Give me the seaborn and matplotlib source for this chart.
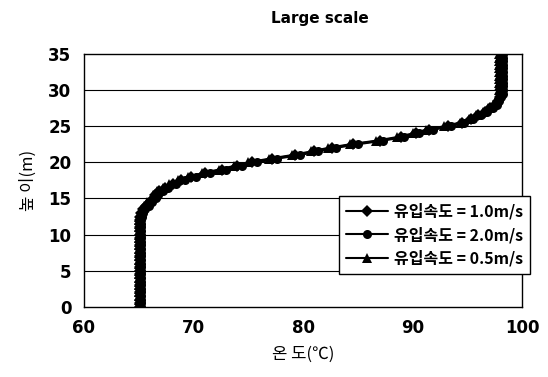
import numpy as np
import pandas as pd
import matplotlib
matplotlib.use("Agg")
import matplotlib.pyplot as plt
import seaborn as sns

# ==========================
# Data
# ==========================

heights = [
    0.0, 0.5, 1.0, 1.5, 2.0, 2.5, 3.0, 3.5, 4.0, 4.5,
    5.0, 5.5, 6.0, 6.5, 7.0, 7.5, 8.0, 8.5, 9.0, 9.5,
    10.0, 10.5, 11.0, 11.5, 12.0, 12.5, 13.0, 13.5, 14.0, 14.5,
    15.0, 15.5, 16.0, 16.5, 17.0, 17.5, 18.0, 18.5, 19.0, 19.5,
    20.0, 20.5, 21.0, 21.5, 22.0, 22.5, 23.0, 23.5, 24.0, 24.5,
    25.0, 25.5, 26.0, 26.5, 27.0, 27.5, 28.0, 28.5, 29.0, 29.5,
    30.0, 30.5, 31.0, 31.5, 32.0, 32.5, 33.0, 33.5, 34.0, 34.5,
    35.0
]

temp_10 = [
    65.1, 65.1, 65.1, 65.1, 65.1, 65.1, 65.1, 65.1, 65.1, 65.1,
    65.1, 65.1, 65.1, 65.1, 65.1, 65.1, 65.1, 65.1, 65.1, 65.1,
    65.1, 65.1, 65.1, 65.1, 65.1, 65.1, 65.2, 65.4, 65.7, 66.0,
    66.4, 66.5, 66.9, 67.4, 68.1, 68.9, 69.8, 71.1, 72.6, 74.0,
    75.3, 77.2, 79.3, 81.0, 82.6, 84.6, 87.0, 88.9, 90.3, 91.5,
    93.2, 94.5, 95.3, 96.0, 96.6, 97.1, 97.5, 97.8, 98.0, 98.1,
    98.1, 98.1, 98.1, 98.1, 98.1, 98.1, 98.1, 98.1, 98.1, 98.1,
    98.1
]

temp_20 = [
    65.2, 65.2, 65.2, 65.2, 65.2, 65.2, 65.2, 65.2, 65.2, 65.2,
    65.2, 65.2, 65.2, 65.2, 65.2, 65.2, 65.2, 65.2, 65.2, 65.2,
    65.2, 65.2, 65.2, 65.2, 65.2, 65.3, 65.4, 65.6, 65.9, 66.2,
    66.6, 66.8, 67.2, 67.7, 68.4, 69.2, 70.2, 71.5, 73.0, 74.4,
    75.8, 77.6, 79.7, 81.4, 83.0, 85.0, 87.3, 89.2, 90.6, 91.9,
    93.5, 94.7, 95.5, 96.2, 96.8, 97.3, 97.7, 97.9, 98.1, 98.2,
    98.2, 98.2, 98.2, 98.2, 98.2, 98.2, 98.2, 98.2, 98.2, 98.2,
    98.2
]

temp_05 = [
    65.0, 65.0, 65.0, 65.0, 65.0, 65.0, 65.0, 65.0, 65.0, 65.0,
    65.0, 65.0, 65.0, 65.0, 65.0, 65.0, 65.0, 65.0, 65.0, 65.0,
    65.0, 65.0, 65.0, 65.0, 65.0, 65.0, 65.1, 65.3, 65.5, 65.8,
    66.2, 66.3, 66.7, 67.2, 67.8, 68.6, 69.5, 70.8, 72.3, 73.7,
    75.0, 76.9, 79.0, 80.7, 82.3, 84.3, 86.7, 88.6, 90.0, 91.2,
    92.9, 94.3, 95.1, 95.8, 96.4, 96.9, 97.3, 97.6, 97.8, 97.9,
    97.9, 97.9, 97.9, 97.9, 97.9, 97.9, 97.9, 97.9, 97.9, 97.9,
    97.9
]

series_labels = [
    "유입속도 = 1.0m/s",
    "유입속도 = 2.0m/s",
    "유입속도 = 0.5m/s"
]

x_ticks = [60, 70, 80, 90, 100]
y_ticks = [0, 5, 10, 15, 20, 25, 30, 35]

# ==========================
# Long table for seaborn
# ==========================

df = pd.concat([
    pd.DataFrame({"temp": temp_10, "height": heights, "series": series_labels[0]}),
    pd.DataFrame({"temp": temp_20, "height": heights, "series": series_labels[1]}),
    pd.DataFrame({"temp": temp_05, "height": heights, "series": series_labels[2]}),
])

# ==========================
# Style
# ==========================

sns.set_style("white")
plt.rcParams["font.family"] = ["Noto Sans CJK KR", "DejaVu Sans"]
plt.rcParams["text.color"] = "black"
plt.rcParams["axes.labelcolor"] = "black"
plt.rcParams["xtick.color"] = "black"
plt.rcParams["ytick.color"] = "black"

fig = plt.figure(figsize=(5.48, 3.77), dpi=100)
ax = fig.add_axes([0.153, 0.186, 0.800, 0.671])

# ==========================
# Plot
# ==========================

sns.lineplot(
    data=df,
    x="temp",
    y="height",
    hue="series",
    style="series",
    markers=["D", "o", "^"],
    dashes=False,
    palette=["black", "black", "black"],
    sort=False,
    estimator=None,
    markersize=6.5,
    linewidth=1.5,
    markeredgewidth=0,
    ax=ax
)

ax.set_xlim(60, 100)
ax.set_ylim(0, 35)
ax.set_xticks(x_ticks)
ax.set_yticks(y_ticks)

ax.set_xticklabels(
    [str(t) for t in x_ticks],
    fontsize=12,
    fontweight="bold",
    family="DejaVu Sans"
)
ax.set_yticklabels(
    [str(t) for t in y_ticks],
    fontsize=12,
    fontweight="bold",
    family="DejaVu Sans"
)

ax.tick_params(
    axis="both",
    direction="in",
    length=4,
    width=0.8,
    pad=9
)

for y in y_ticks[1:-1]:
    ax.axhline(y, color="black", linewidth=0.8, zorder=0)

for spine in ax.spines.values():
    spine.set_color("black")
    spine.set_linewidth(1.0)

fig.text(
    0.584,
    0.952,
    "Large scale",
    ha="center",
    va="center",
    fontsize=11,
    fontweight="bold",
    family="DejaVu Sans"
)

ax.set_xlabel("온 도(℃)", fontsize=12, labelpad=6)
ax.set_ylabel("높 이(m)", fontsize=12, labelpad=8)

legend = ax.legend(
    loc="center",
    bbox_to_anchor=(0.800, 0.285),
    fontsize=11.5,
    frameon=True,
    fancybox=False,
    edgecolor="black",
    framealpha=1,
    handlelength=2.6,
    handletextpad=0.4,
    borderpad=0.45,
    labelspacing=0.45
)
legend.get_frame().set_linewidth(1.0)
for text in legend.get_texts():
    text.set_fontweight("bold")

fig.savefig("out.png", dpi=100)
